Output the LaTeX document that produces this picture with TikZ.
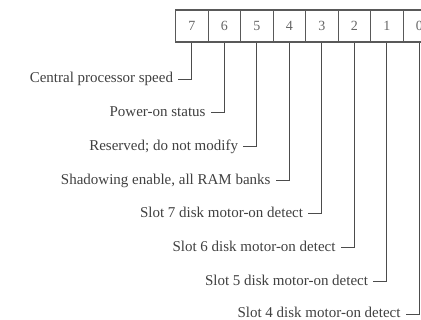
\documentclass[tikz,border=0pt]{standalone}
\usepackage{fontspec}
\setmainfont{Liberation Serif}
\definecolor{boxc}{gray}{0.35}
\definecolor{digitc}{gray}{0.40}
\definecolor{labc}{gray}{0.25}
\definecolor{linec}{gray}{0.30}
\newcommand{\labfont}{\fontsize{15}{15}\selectfont}
\begin{document}
\begin{tikzpicture}[x=1pt,y=-1pt,
  cell/.style={draw=boxc, line width=1.1pt, minimum width=32.5pt, minimum height=32pt,
    inner sep=0pt, anchor=north west, text=digitc, font=\fontsize{14}{14}\selectfont},
  lab/.style={anchor=east, inner xsep=5pt, inner ysep=0pt, text=labc,
    font=\labfont, text height=8pt, text depth=0pt},
  lead/.style={draw=linec, line width=0.9pt}]
\useasboundingbox (0,0) rectangle (421,320);
\clip (0,0) rectangle (421,320);
% register cells
\node[cell] (c7) at (175,9.5) {7};
\node[cell] (c6) at (207.5,9.5) {6};
\node[cell] (c5) at (240,9.5) {5};
\node[cell] (c4) at (272.5,9.5) {4};
\node[cell] (c3) at (305,9.5) {3};
\node[cell] (c2) at (337.5,9.5) {2};
\node[cell] (c1) at (370,9.5) {1};
\node[cell] (c0) at (402.5,9.5) {0};
% labels
\node[lab] (l7) at (178.25,79) {Central processor speed};
\node[lab] (l6) at (210.75,112.7) {Power-on status};
\node[lab] (l5) at (243.25,146.4) {Reserved; do not modify};
\node[lab] (l4) at (275.75,180.1) {Shadowing enable, all RAM banks};
\node[lab] (l3) at (308.25,213.8) {Slot 7 disk motor-on detect};
\node[lab] (l2) at (340.75,247.5) {Slot 6 disk motor-on detect};
\node[lab] (l1) at (373.25,281.2) {Slot 5 disk motor-on detect};
\node[lab] (l0) at (405.75,314) {Slot 4 disk motor-on detect};
% leaders
\draw[lead] (c7.south) |- (l7.east);
\draw[lead] (c6.south) |- (l6.east);
\draw[lead] (c5.south) |- (l5.east);
\draw[lead] (c4.south) |- (l4.east);
\draw[lead] (c3.south) |- (l3.east);
\draw[lead] (c2.south) |- (l2.east);
\draw[lead] (c1.south) |- (l1.east);
\draw[lead] (c0.south) |- (l0.east);
\end{tikzpicture}
\end{document}
